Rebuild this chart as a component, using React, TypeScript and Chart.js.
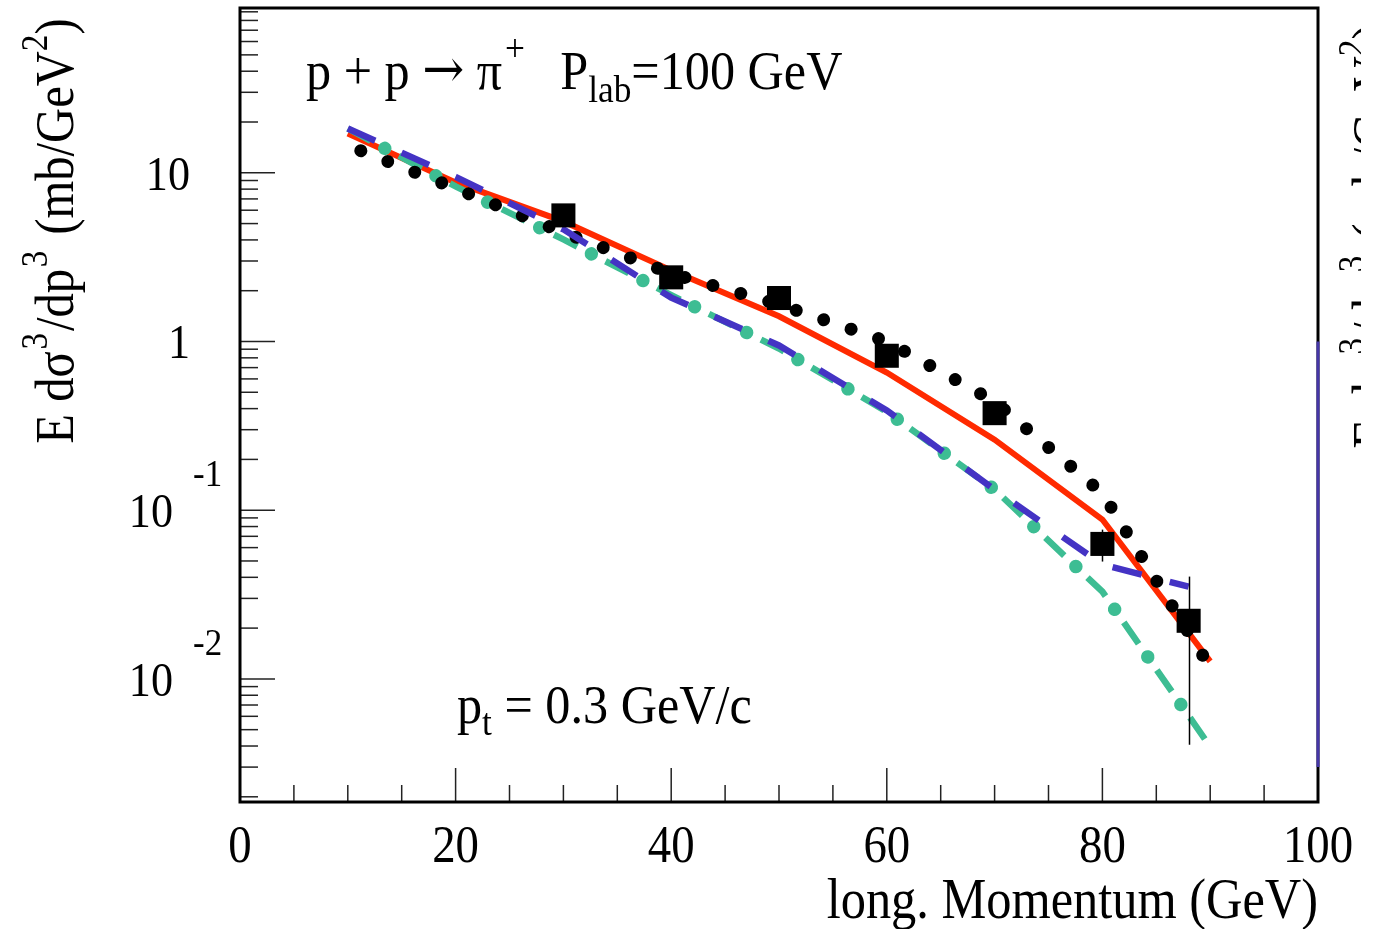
import React, { useEffect, useRef } from "react";
import { Chart, registerables } from "chart.js";

Chart.register(...registerables);

// ---------------- data ----------------
const modelMomentum = [10, 20, 30, 40, 50, 60, 70, 80, 90];
const redModel = [17.1, 8.77, 5.15, 2.64, 1.41, 0.655, 0.262, 0.088, 0.0127];
const dottedModel = [14.5, 8.08, 4.43, 2.53, 1.66, 1.0, 0.441, 0.126, 0.0117];
const greenModel = [18.3, 8.3, 4.03, 1.88, 0.909, 0.384, 0.1325, 0.0329, 0.00396];
const blueMomentum = [10, 20, 30, 40, 50, 60, 70, 80, 88];
const blueModel = [18.3, 9.46, 4.62, 1.82, 0.947, 0.39, 0.1325, 0.0476, 0.0352];

const dataMomentum = [30, 40, 50, 60, 70, 80, 88];
const dataValues = [5.59, 2.4, 1.81, 0.823, 0.376, 0.0631, 0.0221];
const dataErrLow = [5.59, 2.4, 1.81, 0.823, 0.376, 0.0496, 0.00407];
const dataErrHigh = [5.59, 2.4, 1.81, 0.823, 0.376, 0.0767, 0.0404];

const xRange = [0, 100];
const yRange = [0.001863, 94.8];
const xTickValues = [0, 20, 40, 60, 80, 100];
const xTickLabels = ["0", "20", "40", "60", "80", "100"];
const xMinorStep = 5;
const yTickValues = [10, 1, 0.1, 0.01];
const yTickBase = ["10", "1", "10", "10"];
const yTickExp = ["", "", "-1", "-2"];
const rightMarkRange = [1, 0.003];

const FONT = '"Liberation Serif", "Times New Roman", serif';

type Seg = { t: string; size: number; dy?: number; dx?: number; font?: string };

function segFont(s: Seg) {
  return `${s.size}px ${s.font || FONT}`;
}

function richWidth(ctx: CanvasRenderingContext2D, segs: Seg[]) {
  let w = 0;
  for (const s of segs) {
    ctx.font = segFont(s);
    w += (s.dx || 0) + ctx.measureText(s.t).width;
  }
  return w;
}

function drawRich(
  ctx: CanvasRenderingContext2D,
  x: number,
  y: number,
  segs: Seg[],
  hscale = 1,
  align: "left" | "right" | "center" = "left",
  rotate = 0
) {
  ctx.save();
  ctx.translate(x, y);
  if (rotate) ctx.rotate(rotate);
  ctx.scale(hscale, 1);
  ctx.textBaseline = "alphabetic";
  ctx.textAlign = "left";
  ctx.fillStyle = "#000";
  const w = richWidth(ctx, segs);
  let cx = align === "right" ? -w : align === "center" ? -w / 2 : 0;
  for (const s of segs) {
    ctx.font = segFont(s);
    cx += s.dx || 0;
    ctx.fillText(s.t, cx, s.dy || 0);
    cx += ctx.measureText(s.t).width;
  }
  ctx.restore();
}

const yTitle: Seg[] = [
  { t: "E d", size: 54 },
  { t: "σ", size: 54 },
  { t: "3", size: 37, dy: -26, dx: 2 },
  { t: "/dp", size: 54, dx: 2 },
  { t: "3", size: 37, dy: -26, dx: 2 },
  { t: " (mb/GeV", size: 54, dx: 4 },
  { t: "2", size: 37, dy: -26 },
  { t: ")", size: 54 },
];

const decorPlugin = {
  id: "decor",
  afterDraw(chart: any) {
    const ctx: CanvasRenderingContext2D = chart.ctx;
    const { left, right, top, bottom } = chart.chartArea;
    const xs = chart.scales.x;
    const ys = chart.scales.y;

    ctx.save();
    // error bars
    ctx.strokeStyle = "#000";
    ctx.lineWidth = 1.5;
    dataMomentum.forEach((m, i) => {
      if (dataErrHigh[i] > dataErrLow[i]) {
        const px = Math.round(xs.getPixelForValue(m)) + 0.5;
        ctx.beginPath();
        ctx.moveTo(px, ys.getPixelForValue(dataErrHigh[i]));
        ctx.lineTo(px, ys.getPixelForValue(dataErrLow[i]));
        ctx.stroke();
      }
    });

    // x ticks (inward)
    ctx.strokeStyle = "#222";
    ctx.lineWidth = 1.5;
    for (let v = xRange[0]; v <= xRange[1] + 1e-9; v += xMinorStep) {
      const px = xs.getPixelForValue(v);
      const major = xTickValues.includes(v);
      ctx.beginPath();
      ctx.moveTo(px, bottom);
      ctx.lineTo(px, bottom - (major ? 34 : 17));
      ctx.stroke();
    }
    // y ticks (inward)
    for (let d = -3; d <= 1; d++) {
      for (let k = 1; k <= 9; k++) {
        const v = k * Math.pow(10, d);
        if (v < yRange[0] || v > yRange[1]) continue;
        const py = ys.getPixelForValue(v);
        ctx.beginPath();
        ctx.moveTo(left, py);
        ctx.lineTo(left + (k === 1 ? 35 : 18), py);
        ctx.stroke();
      }
    }

    // frame
    ctx.strokeStyle = "#000";
    ctx.lineWidth = 3;
    ctx.strokeRect(left, top, right - left, bottom - top);
    ctx.strokeStyle = "#4536a8";
    ctx.beginPath();
    ctx.moveTo(right, ys.getPixelForValue(rightMarkRange[0]));
    ctx.lineTo(right, ys.getPixelForValue(rightMarkRange[1]));
    ctx.stroke();

    // x tick labels
    xTickValues.forEach((v, i) => {
      drawRich(ctx, xs.getPixelForValue(v), bottom + 60, [{ t: xTickLabels[i], size: 52 }], 0.9, "center");
    });
    // y tick labels
    yTickValues.forEach((v, i) => {
      const py = ys.getPixelForValue(v);
      if (yTickExp[i]) {
        drawRich(ctx, left - 67, py + 17, [{ t: yTickBase[i], size: 48 }], 0.92, "right");
        drawRich(ctx, left - 47, py - 24, [{ t: yTickExp[i], size: 38 }], 0.92, "left");
      } else {
        drawRich(ctx, left - 50, py + 17, [{ t: yTickBase[i], size: 48 }], 0.92, "right");
      }
    });

    // axis titles
    drawRich(ctx, right, bottom + 116, [{ t: "long. Momentum (GeV)", size: 56 }], 0.9, "right");
    drawRich(ctx, 73, 231, yTitle, 0.9, "center", -Math.PI / 2);

    // clipped duplicate title at right edge
    ctx.save();
    ctx.beginPath();
    ctx.rect(right + 15, 0, 28, chart.height);
    ctx.clip();
    drawRich(ctx, right + 72, 236, yTitle, 0.9, "center", -Math.PI / 2);
    ctx.restore();

    // annotations
    drawRich(
      ctx,
      306,
      89,
      [
        { t: "p + p ", size: 54 },
        { t: "→", size: 54, font: '"DejaVu Serif", serif', dy: -2 },
        { t: " π", size: 54 },
        { t: "+", size: 38, dy: -28, dx: 3 },
        { t: "P", size: 54, dx: 38 },
        { t: "lab", size: 38, dy: 13 },
        { t: "=100 GeV", size: 54 },
      ],
      0.93
    );
    drawRich(
      ctx,
      457,
      723,
      [
        { t: "p", size: 54 },
        { t: "t", size: 38, dy: 12 },
        { t: " = 0.3 GeV/c", size: 54 },
      ],
      0.93
    );
    ctx.restore();
  },
};

const pts = (xs: number[], ys: number[]) => xs.map((x, i) => ({ x, y: ys[i] }));

export default function App() {
  const ref = useRef<HTMLCanvasElement | null>(null);

  useEffect(() => {
    if (!ref.current) return;
    const chart = new Chart(ref.current, {
      type: "line",
      data: {
        datasets: [
          {
            label: "data",
            data: pts(dataMomentum, dataValues),
            showLine: false,
            pointStyle: "rect",
            pointRadius: 17,
            pointBackgroundColor: "#000",
            pointBorderWidth: 0,
            borderColor: "#000",
            order: 0,
          },
          {
            label: "blue",
            data: pts(blueMomentum, blueModel),
            borderColor: "#4433c4",
            borderWidth: 6.5,
            borderDash: [30, 29],
            borderCapStyle: "butt",
            pointRadius: 0,
            order: 1,
          },
          {
            label: "dotted",
            data: pts(modelMomentum, dottedModel),
            borderColor: "#000",
            borderWidth: 13,
            borderDash: [0.01, 29],
            borderDashOffset: 15,
            borderCapStyle: "round",
            pointRadius: 0,
            order: 2,
          },
          {
            label: "greenDots",
            data: pts(modelMomentum, greenModel),
            borderColor: "#3dbd93",
            borderWidth: 13.5,
            borderDash: [0.01, 57.99],
            borderDashOffset: 16,
            borderCapStyle: "round",
            pointRadius: 0,
            order: 3,
          },
          {
            label: "greenDash",
            data: pts(modelMomentum, greenModel),
            borderColor: "#3dbd93",
            borderWidth: 6.5,
            borderDash: [26, 32],
            borderCapStyle: "butt",
            pointRadius: 0,
            order: 4,
          },
          {
            label: "red",
            data: pts(modelMomentum, redModel),
            borderColor: "#ff2a00",
            borderWidth: 6,
            pointRadius: 0,
            order: 5,
          },
        ],
      },
      options: {
        responsive: false,
        animation: false,
        devicePixelRatio: 1,
        layout: { autoPadding: false, padding: { left: 240, top: 8, right: 71, bottom: 127 } },
        plugins: { legend: { display: false }, tooltip: { enabled: false } },
        events: [],
        scales: {
          x: { type: "linear", min: xRange[0], max: xRange[1], display: false },
          y: { type: "logarithmic", min: yRange[0], max: yRange[1], display: false },
        },
      },
      plugins: [decorPlugin],
    } as any);
    return () => chart.destroy();
  }, []);

  return (
    <div style={{ position: "fixed", left: 0, top: 0, width: 1389, height: 929, background: "#fff" }}>
      <canvas ref={ref} width={1389} height={929} style={{ width: 1389, height: 929 }} />
    </div>
  );
}
